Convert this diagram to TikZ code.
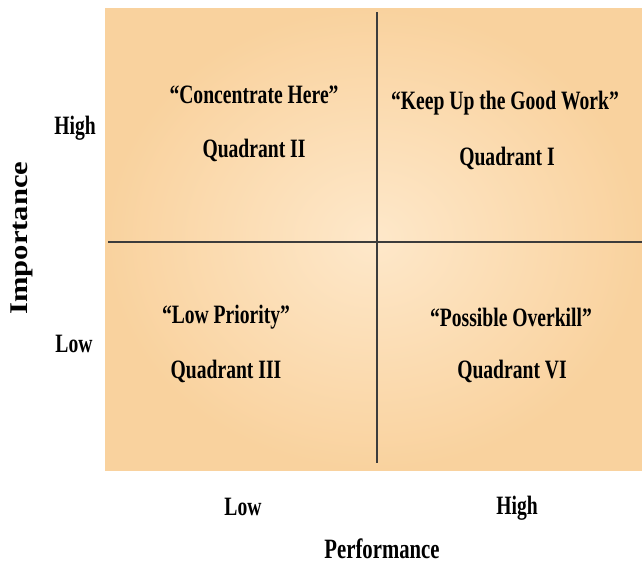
\documentclass[tikz,border=0pt]{standalone}
\usepackage{fontspec}
\setmainfont{Liberation Serif}
\newfontfamily\narrowfont[FakeStretch=0.74]{Liberation Serif}
\newfontfamily\widefont[FakeStretch=1.2]{Liberation Serif}

\definecolor{peach}{RGB}{249,210,158}
\definecolor{peachlight}{RGB}{254,232,202}
\definecolor{axisgray}{RGB}{60,60,60}

\tikzset{
  quadtext/.style={font=\narrowfont\bfseries\fontsize{26.5}{30}\selectfont, inner sep=0pt},
  ticktext/.style={font=\narrowfont\bfseries\fontsize{26.5}{30}\selectfont, inner sep=0pt},
  axistitle/.style={font=\narrowfont\bfseries\fontsize{28}{32}\selectfont, inner sep=0pt},
  axisline/.style={draw=axisgray, line width=1.2pt}
}

\begin{document}
\begin{tikzpicture}[x=1pt,y=-1pt]
    \useasboundingbox (0,0) rectangle (642,565);
    \shade[inner color=peachlight, outer color=peach] (105,8) rectangle (642,470);

    \coordinate (top) at (377,12);
    \coordinate (bottom) at (377,463);
    \coordinate (left) at (108,242);
    \coordinate (right) at (642,242);
    \draw[axisline] (top) -- (bottom);
    \draw[axisline] (left) -- (right);

    \foreach \name/\pos/\txt in {
      heretitle/{254,95}/{“Concentrate Here”},
      heretag/{254,150}/{Quadrant II},
      worktitle/{505,103}/{“Keep Up the Good Work”},
      worktag/{507,158}/{Quadrant I},
      lowtitle/{226,317}/{“Low Priority”},
      lowtag/{226,371}/{Quadrant III},
      overtitle/{511,317}/{“Possible Overkill”},
      overtag/{512,371}/{Quadrant VI}} {
      \node[quadtext] (\name) at (\pos) {\txt};
    }

    \node[ticktext] (imphigh) at (75,128) {High};
    \node[ticktext] (implow) at (74,344) {Low};
    \node[ticktext] (perflow) at (243,507) {Low};
    \node[ticktext] (perfhigh) at (517,508) {High};

    \node[axistitle, font=\widefont\bfseries\fontsize{25.5}{30}\selectfont, rotate=90] (imp) at (22,238) {Importance};
    \node[axistitle] (perf) at (382,549) {Performance};
  \end{tikzpicture}
\end{document}
